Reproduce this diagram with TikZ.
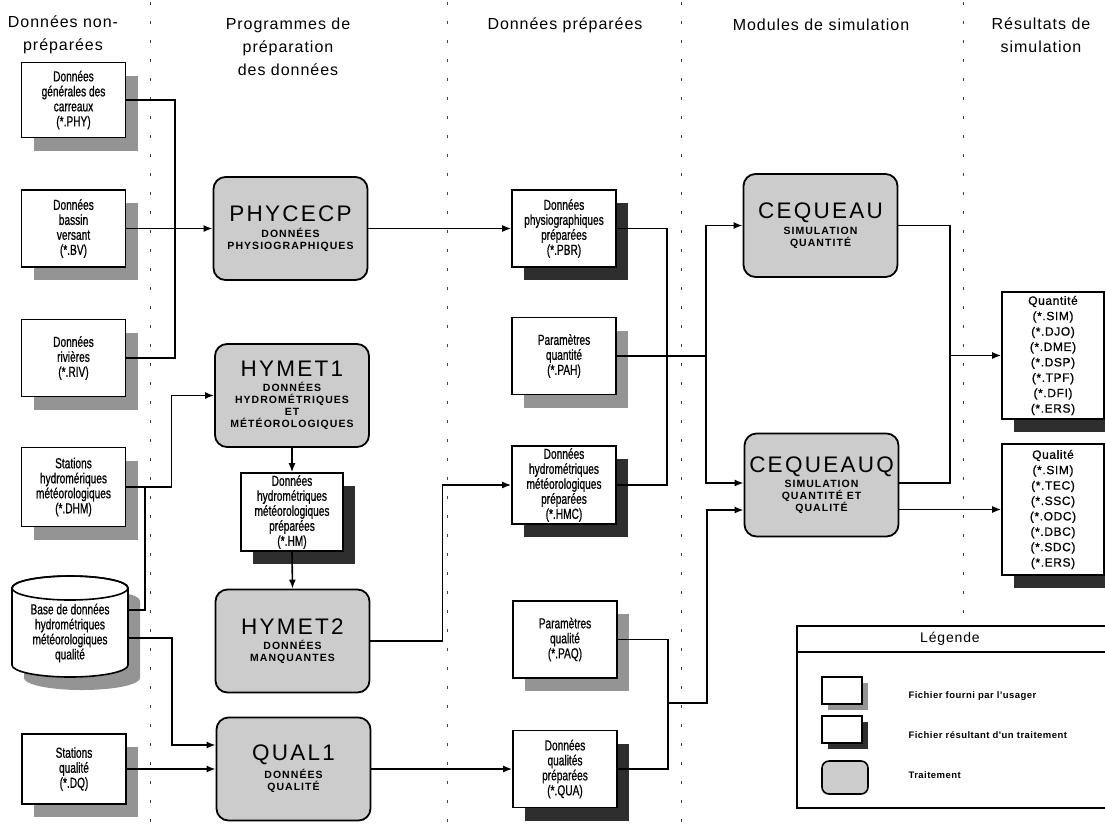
\documentclass[tikz,border=0pt]{standalone}
\usepackage{fontspec}
\setmainfont{Liberation Sans}
\newfontfamily\boxfont[FakeStretch=0.7,FakeBold=0.7]{Liberation Sans}
\newfontfamily\titlefont[LetterSpace=6]{Liberation Sans}
\newfontfamily\procfont[LetterSpace=10]{Liberation Sans}
\newfontfamily\subfont[LetterSpace=10]{Liberation Sans}
\newfontfamily\resfont[LetterSpace=5,FakeBold=0.8]{Liberation Sans}
\newfontfamily\legfont[LetterSpace=5]{Liberation Sans}
\usetikzlibrary{shadows,arrows.meta,calc}
\tikzset{
  filebox/.style={draw, line width=1.6pt, fill=white, minimum width=104pt, minimum height=77pt,
    align=center, inner sep=1pt, font=\boxfont\fontsize{14.5}{15}\selectfont},
  lightsh/.style={drop shadow={shadow xshift=12pt, shadow yshift=-13pt, fill=black!42, opacity=1}},
  darksh/.style={drop shadow={shadow xshift=12pt, shadow yshift=-13pt, fill=black!82, opacity=1}},
  userfile/.style={filebox, lightsh},
  resfile/.style={filebox, darksh},
  proc/.style={draw, line width=1.8pt, rounded corners=12pt, fill=black!20, minimum width=154pt,
    minimum height=103pt, align=center, inner sep=0pt},
  resbox/.style={draw, line width=1.6pt, fill=white, minimum width=102pt, align=center, inner sep=1pt,
    font=\resfont\fontsize{12}{15.4}\selectfont, darksh},
  coltitle/.style={align=center, font=\titlefont\fontsize{16}{23}\selectfont},
  conn/.style={line width=1.6pt},
  arr/.style={conn, -{Latex[length=9pt,width=7pt]}},
  sep/.style={line width=1pt, dash pattern=on 3pt off 16pt, black!75},
  legtext/.style={anchor=west, font=\legfont\bfseries\fontsize{9.5}{11}\selectfont},
}
\newcommand{\pt}[1]{{\procfont\fontsize{22.5}{26}\selectfont #1}}
\newcommand{\st}{\subfont\bfseries\fontsize{10.5}{15.5}\selectfont}
\begin{document}
\begin{tikzpicture}[x=1pt,y=-1pt]
\useasboundingbox (0,0) rectangle (1105,828);
% separators
\foreach \xx in {150,447,681} \draw[sep] (\xx,2) -- (\xx,828);
\draw[sep] (963,2) -- (963,625);

% column titles
\node[coltitle] (t1) at (63,35) {Données non-\\préparées};
\node[coltitle] (t2) at (288,47) {Programmes de\\préparation\\des données};
\node[coltitle] (t3) at (565,25) {Données préparées};
\node[coltitle] (t4) at (821,25) {Modules de simulation};
\node[coltitle] (t5) at (1041,35) {Résultats de\\simulation};

% left column
\node[userfile, minimum height=75pt] (phy) at (73.5,100) {Données\\générales des\\carreaux\\(*.PHY)};
\node[userfile] (bv) at (73.5,228.5) {Données\\bassin\\versant\\(*.BV)};
\node[userfile] (riv) at (73.5,358) {Données\\rivières\\(*.RIV)};
\node[userfile, minimum height=79pt] (dhm) at (73.5,487) {Stations\\hydromériques\\météorologiques\\(*.DHM)};
\node[userfile, minimum height=70pt] (dq) at (74,769) {Stations\\qualité\\(*.DQ)};

% cylinder
\begin{scope}[shift={(12,13)}]
\fill[black!42] (12,588) -- (12,665) arc[start angle=180,end angle=360,x radius=58pt,y radius=12pt]
  -- (128,588) arc[start angle=0,end angle=180,x radius=58pt,y radius=12pt] -- cycle;
\end{scope}
\filldraw[fill=white, line width=1.6pt] (12,588) -- (12,665) arc[start angle=180,end angle=360,x radius=58pt,y radius=12pt]
  -- (128,588) arc[start angle=0,end angle=180,x radius=58pt,y radius=12pt] -- cycle;
\draw[line width=1.6pt] (70,588) ellipse[x radius=58pt, y radius=12pt];
\node[align=center, inner sep=0pt, minimum width=116pt, font=\boxfont\fontsize{14.5}{15}\selectfont] (bdd) at (70,633)
  {Base de données\\hydrométriques\\météorologiques\\qualité};

% processing
\node[proc] (phycecp) at (290.5,228.5) {\pt{PHYCECP}\\[3.5pt]\st DONNÉES\\\st PHYSIOGRAPHIQUES};
\node[proc] (hymet1) at (292,395.5) {\pt{HYMET1}\\[3.5pt]\st DONNÉES\\\st HYDROMÉTRIQUES\\\st ET\\\st MÉTÉOROLOGIQUES};
\node[resfile, minimum width=102pt, minimum height=78pt] (hm) at (292,512) {Données\\hydrométriques\\météorologiques\\préparées\\(*.HM)};
\node[proc] (hymet2) at (292.5,641) {\pt{HYMET2}\\[3.5pt]\st DONNÉES\\\st MANQUANTES};
\node[proc] (qual1) at (293.5,769) {\pt{QUAL1}\\[3.5pt]\st DONNÉES\\\st QUALITÉ};

% prepared data
\node[resfile] (pbr) at (564,228.5) {Données\\physiographiques\\préparées\\(*.PBR)};
\node[userfile] (pah) at (564,356) {Paramètres\\quantité\\(*.PAH)};
\node[resfile, minimum height=78pt] (hmc) at (564,485) {Données\\hydrométriques\\météorologiques\\préparées\\(*.HMC)};
\node[userfile] (paq) at (565,639.5) {Paramètres\\qualité\\(*.PAQ)};
\node[resfile] (qua) at (565,769) {Données\\qualités\\préparées\\(*.QUA)};

% simulation
\node[proc] (cequeau) at (820.5,225.5) {\pt{CEQUEAU}\\[3.5pt]\st SIMULATION\\\st QUANTITÉ};
\node[proc] (cequeauq) at (821.5,485) {\pt{CEQUEAUQ}\\[3.5pt]\st SIMULATION\\\st QUANTITÉ ET\\\st QUALITÉ};

% results
\node[resbox, minimum height=127pt] (quant) at (1053,355.5) {Quantité\\(*.SIM)\\(*.DJO)\\(*.DME)\\(*.DSP)\\(*.TPF)\\(*.DFI)\\(*.ERS)};
\node[resbox, minimum height=131pt] (quali) at (1053,509.5) {Qualité\\(*.SIM)\\(*.TEC)\\(*.SSC)\\(*.ODC)\\(*.DBC)\\(*.SDC)\\(*.ERS)};

% legend
\node[draw, line width=1.6pt, fill=white, minimum width=314pt, minimum height=182pt, anchor=north west, inner sep=0pt] (legend) at (796,625) {};
\draw[line width=1.6pt] (legend.west |- 0,652) -- (legend.east |- 0,652);
\node[font=\titlefont\fontsize{14}{16}\selectfont] (legtitle) at (950,639) {Légende};
\node[draw, line width=1.6pt, fill=white, minimum width=40pt, minimum height=27pt, inner sep=0pt,
  drop shadow={shadow xshift=6pt, shadow yshift=-6pt, fill=black!42, opacity=1}] (lg1) at (842,690.5) {};
\node[draw, line width=1.6pt, fill=white, minimum width=40pt, minimum height=27pt, inner sep=0pt,
  drop shadow={shadow xshift=6pt, shadow yshift=-6pt, fill=black!82, opacity=1}] (lg2) at (842,729.5) {};
\node[draw, line width=1.6pt, rounded corners=7pt, fill=black!20, minimum width=46pt, minimum height=33pt, inner sep=0pt] (lg3) at (845,777.5) {};
\node[legtext] (lt1) at (905,696) {Fichier fourni par l'usager};
\node[legtext] (lt2) at (905,735) {Fichier résultant d'un traitement};
\node[legtext] (lt3) at (905,775) {Traitement};

% connectors
\coordinate (jA) at (175,228.5);
\draw[conn] (phy.east) -| (jA);
\draw[conn] (riv.east) -| (jA);
\draw[arr] (bv.east) -- (phycecp.west);
\draw[arr] (phycecp.east) -- (pbr.west);
\draw[arr] (dhm.east) -- ++(45,0) |- (hymet1.west);
\draw[conn] (bdd.east |- 0,610) -| (145,487);
\draw[arr] (bdd.east |- 0,638) -| (172,745) -- (qual1.west |- 0,745);
\draw[arr] (dq.east) -- (qual1.west);
\draw[arr] (hymet1.south) -- (hm.north);
\draw[arr] (hm.south) -- (hymet2.north);
\draw[arr] (hymet2.east) -- ++(72,0) |- (hmc.west);
\draw[arr] (qual1.east) -- (qua.west);
\coordinate (jB) at (706,356);
\draw[conn] (pbr.east) -| (667,485) -- (hmc.east);
\draw[conn] (pah.east) -- (jB);
\draw[arr] (jB) |- (cequeau.west);
\draw[arr] (jB) |- (cequeauq.west |- 0,483);
\draw[conn] (paq.east) -| (668,769) -- (qua.east);
\draw[arr] (668,703) -| (707,510) -- (cequeauq.west |- 0,510);
\draw[arr] (cequeau.east) -| (950,355.5) -- (quant.west);
\draw[conn] (cequeauq.east |- 0,483) -| (950,355.5);
\draw[arr] (cequeauq.east |- quali.west) -- (quali.west);
\end{tikzpicture}
\end{document}
